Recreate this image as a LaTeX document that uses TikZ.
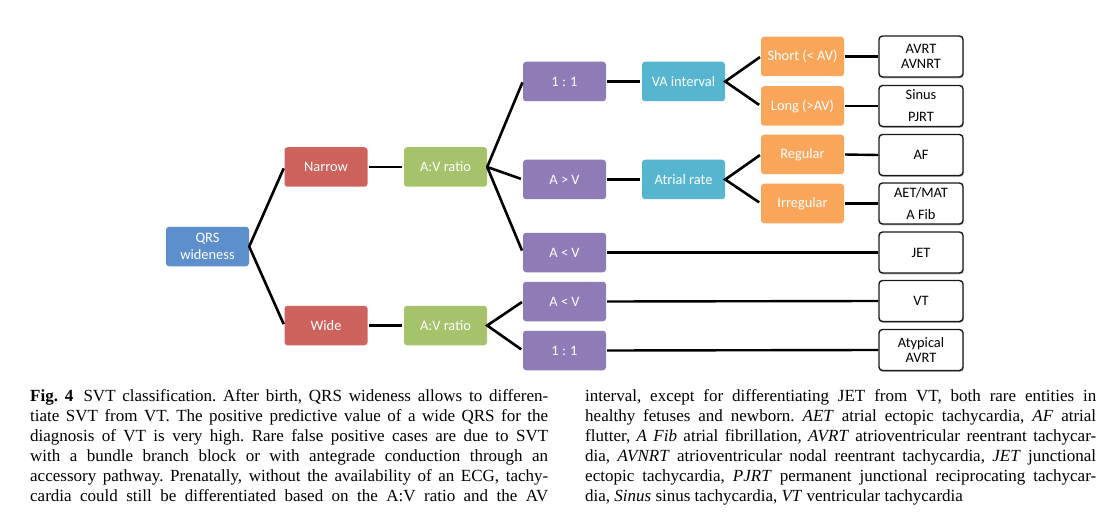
\documentclass[tikz,border=0pt]{standalone}
\usepackage{fontspec}
\setmainfont{Liberation Serif}
\newfontfamily\calibri{Carlito}
\usetikzlibrary{shadows}
\definecolor{cblue}{RGB}{92,143,204}
\definecolor{cred}{RGB}{206,99,94}
\definecolor{cgreen}{RGB}{166,195,108}
\definecolor{cpurple}{RGB}{143,123,181}
\definecolor{ccyan}{RGB}{86,182,208}
\definecolor{corange}{RGB}{249,166,90}
\newcommand\capline[2]{\hbox to #1{\frenchspacing\spaceskip=0pt\xspaceskip=0pt #2}}
\begin{document}
\begin{tikzpicture}[x=1pt,y=-1pt,
  cbox/.style={rounded corners=3pt, minimum width=83pt, minimum height=39.5pt,
    inner sep=0pt, text=white, align=center,
    font=\calibri\fontsize{14.4}{16.5}\selectfont},
  wbox/.style={draw=black!90, line width=1.4pt, rounded corners=3.5pt, fill=white,
    minimum width=84pt, minimum height=41pt, inner sep=0pt, align=center,
    drop shadow={shadow xshift=0.6pt, shadow yshift=-1.3pt, fill=black!65},
    font=\calibri\fontsize{14.4}{15.5}\selectfont},
  conn/.style={line width=2.6pt, black, shorten <=1pt, shorten >=2pt},
  wconn/.style={line width=2.4pt, black, shorten <=1pt},
  capt/.style={anchor=base west, inner sep=0pt, text width=#1, align=justify,
    font=\fontsize{17}{20}\selectfont}
]
\useasboundingbox (0,0) rectangle (1109,532);
\fill[white] (0,0) rectangle (1109,532);

% level nodes
\node[cbox, fill=cblue] (qrs) at (207.5,246.5) {QRS\\wideness};
\node[cbox, fill=cred] (narrow) at (326,167) {Narrow};
\node[cbox, fill=cred] (wide) at (326,325.5) {Wide};
\node[cbox, fill=cgreen] (av1) at (445.5,167) {A:V ratio};
\node[cbox, fill=cgreen] (av2) at (445.5,325.5) {A:V ratio};
\node[cbox, fill=cpurple] (p1) at (564.5,81.5) {1 : 1};
\node[cbox, fill=cpurple] (p2) at (564.5,179.5) {A > V};
\node[cbox, fill=cpurple] (p3) at (564.5,252.5) {A < V};
\node[cbox, fill=cpurple] (p4) at (564.5,301.5) {A < V};
\node[cbox, fill=cpurple] (p5) at (564.5,350.5) {1 : 1};
\node[cbox, fill=ccyan] (va) at (683.5,81.5) {VA interval};
\node[cbox, fill=ccyan] (ar) at (683.5,179.5) {Atrial rate};
\node[cbox, fill=corange] (short) at (802.5,56.5) {Short (< AV)};
\node[cbox, fill=corange] (long) at (802.5,106) {Long (>AV)};
\node[cbox, fill=corange] (reg) at (802.5,154.5) {Regular};
\node[cbox, fill=corange] (irr) at (802.5,203.5) {Irregular};

\node[wbox] (w1) at (921,56.5) {AVRT\\AVNRT};
\node[wbox] (w2) at (921,106) {Sinus\\[6.5pt]PJRT};
\node[wbox] (w3) at (921,155) {AF};
\node[wbox] (w4) at (921,203.5) {AET/MAT\\[6pt]A Fib};
\node[wbox] (w5) at (921,252.5) {JET};
\node[wbox] (w6) at (921,301) {VT};
\node[wbox] (w7) at (921,350) {Atypical\\AVRT};

% connectors
\draw[conn, shorten >=1.5pt, shorten <=1.5pt] (narrow.west) -- (qrs.east) -- (wide.west);
\draw[conn] (narrow.east) -- (av1.west);
\draw[conn] (wide.east) -- (av2.west);
\draw[conn] (p1.west) -- (av1.east) -- (p3.west);
\draw[conn, shorten <=0pt] (av1.east) -- (p2.west);
\draw[conn] (p4.west) -- (av2.east) -- (p5.west);
\draw[conn] (p1.east) -- (va.west);
\draw[conn] (p2.east) -- (ar.west);
\draw[conn] (short.west) -- (va.east) -- (long.west);
\draw[conn] (reg.west) -- (ar.east) -- (irr.west);
\draw[wconn] (short.east) -- (w1.west);
\draw[wconn] (long.east) -- (w2.west);
\draw[wconn] (reg.east) -- (w3.west);
\draw[wconn] (irr.east) -- (w4.west);
\draw[wconn] (p3.east) -- (w5.west);
\draw[wconn] (p4.east) -- (w6.west);
\draw[wconn] (p5.east) -- (w7.west);

% caption
\node[capt=518pt] (capl) at (30,401) {%
\capline{518pt}{\textbf{Fig. 4}\hskip 0.6em SVT classification. After birth, QRS wideness allows to differen-}
\capline{518pt}{tiate SVT from VT. The positive predictive value of a wide QRS for the}
\capline{518pt}{diagnosis of VT is very high. Rare false positive cases are due to SVT}
\capline{518pt}{with a bundle branch block or with antegrade conduction through an}
\capline{518pt}{accessory pathway. Prenatally, without the availability of an ECG, tachy-}
\capline{518pt}{cardia could still be differentiated based on the A:V ratio and the AV}};
\node[capt=511pt] (capr) at (585,401) {%
\capline{511pt}{interval, except for differentiating JET from VT, both rare entities in}
\capline{511pt}{healthy fetuses and newborn. \textit{AET} atrial ectopic tachycardia, \textit{AF} atrial}
\capline{511pt}{flutter, \textit{A Fib} atrial fibrillation, \textit{AVRT} atrioventricular reentrant tachycar-}
\capline{511pt}{dia, \textit{AVNRT} atrioventricular nodal reentrant tachycardia, \textit{JET} junctional}
\capline{511pt}{ectopic tachycardia, \textit{PJRT} permanent junctional reciprocating tachycar-}
\capline{511pt}{dia, \textit{Sinus} sinus tachycardia, \textit{VT} ventricular tachycardia\hfil}};
\end{tikzpicture}
\end{document}
